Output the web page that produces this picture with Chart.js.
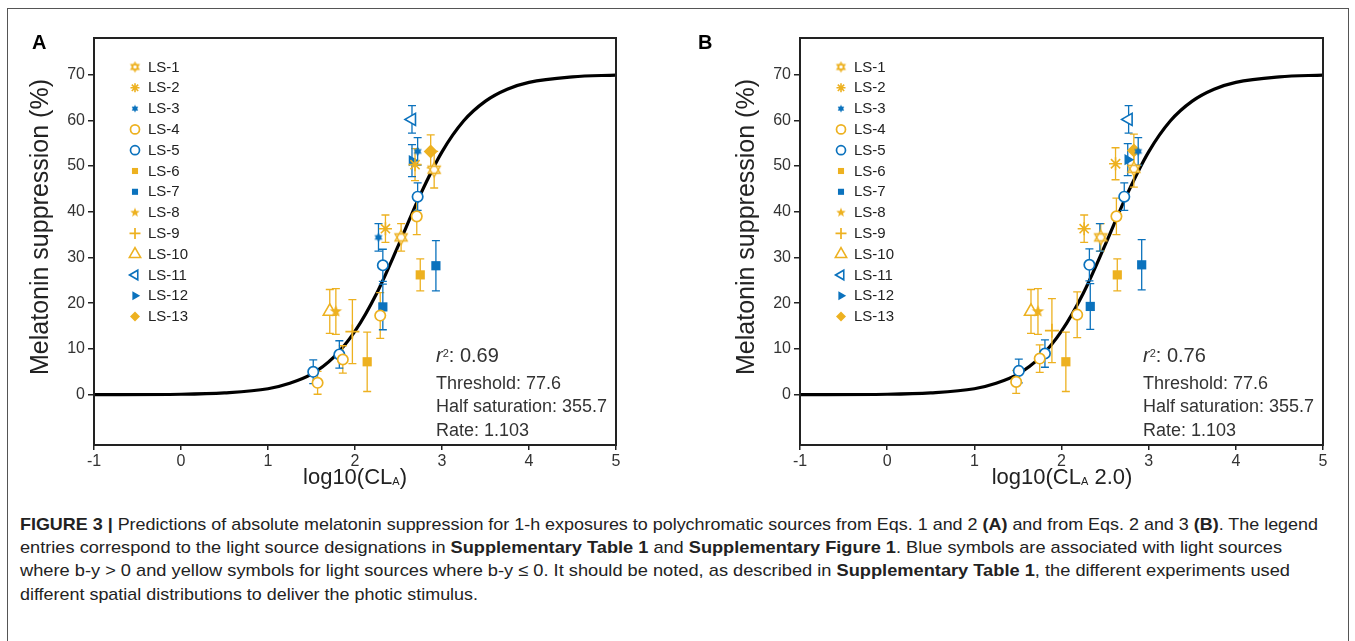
<!DOCTYPE html>
<html><head><meta charset="utf-8">
<script src="https://cdn.jsdelivr.net/npm/chart.js@4.4.1/dist/chart.umd.min.js"></script>
<style>
html,body{margin:0;padding:0;background:#fff;width:1355px;height:641px;overflow:hidden;font-family:"Liberation Sans",Arial,Helvetica,sans-serif;}
#frame{position:absolute;left:7px;top:8px;width:1342px;height:700px;border:1.5px solid #555;box-sizing:border-box;}
canvas{position:absolute;top:0;}
.plab{position:absolute;font-weight:bold;font-size:20px;color:#000;line-height:22px;}
.xt{position:absolute;font-size:22px;color:#222;transform:translateX(-50%);white-space:nowrap;line-height:24px;}
.xt sub{font-size:11px;vertical-align:baseline;position:relative;top:1px;}
.yt{position:absolute;font-size:25px;color:#222;white-space:nowrap;transform:translate(-50%,-50%) rotate(-90deg);line-height:28px;}
.st{position:absolute;color:#333;font-size:18px;line-height:22px;white-space:nowrap;}
.st.r2{font-size:20px;}
.st sup{font-size:11px;vertical-align:top;position:relative;top:-2px;}
.cap{position:absolute;left:20px;font-size:17px;line-height:22px;color:#222;white-space:nowrap;transform-origin:0 50%;}
</style></head>
<body>
<div id="frame"></div>
<canvas id="cA" width="670" height="500" style="left:0px"></canvas>
<canvas id="cB" width="649" height="500" style="left:706px"></canvas>
<div class="plab" style="left:32px;top:31px">A</div>
<div class="plab" style="left:698px;top:31px">B</div>
<div class="yt" style="left:39px;top:227px">Melatonin suppression (%)</div>
<div class="yt" style="left:745px;top:227px">Melatonin suppression (%)</div>
<div class="xt" style="left:355px;top:465px">log10(CL<sub>A</sub>)</div>
<div class="xt" style="left:1062px;top:465px">log10(CL<sub>A</sub> 2.0)</div>
<div class="st r2" style="left:436px;top:344px"><i>r</i><sup>2</sup>: 0.69</div>
<div class="st" style="left:436px;top:372px">Threshold: 77.6</div>
<div class="st" style="left:436px;top:395px">Half saturation: 355.7</div>
<div class="st" style="left:436px;top:419px">Rate: 1.103</div>
<div class="st r2" style="left:1143px;top:344px"><i>r</i><sup>2</sup>: 0.76</div>
<div class="st" style="left:1143px;top:372px">Threshold: 77.6</div>
<div class="st" style="left:1143px;top:395px">Half saturation: 355.7</div>
<div class="st" style="left:1143px;top:419px">Rate: 1.103</div>
<div class="cap" id="cap1" style="top:514px"><b>FIGURE 3 |</b> Predictions of absolute melatonin suppression for 1-h exposures to polychromatic sources from Eqs. 1 and 2 <b>(A)</b> and from Eqs. 2 and 3 <b>(B)</b>. The legend</div>
<div class="cap" id="cap2" style="top:537px">entries correspond to the light source designations in <b>Supplementary Table 1</b> and <b>Supplementary Figure 1</b>. Blue symbols are associated with light sources</div>
<div class="cap" id="cap3" style="top:560px">where b-y &gt; 0 and yellow symbols for light sources where b-y ≤ 0. It should be noted, as described in <b>Supplementary Table 1</b>, the different experiments used</div>
<div class="cap" id="cap4" style="top:584px">different spatial distributions to deliver the photic stimulus.</div>
<script>
// ---------------- data ----------------
const categories = ['LS-1','LS-2','LS-3','LS-4','LS-5','LS-6','LS-7','LS-8','LS-9','LS-10','LS-11','LS-12','LS-13'];
const xTickVals = [-1,0,1,2,3,4,5];
const yTickVals = [0,10,20,30,40,50,60,70];
// fitted curve (same in both panels)
const curveX = [-1,0,0.5,1,1.25,1.5,1.75,2,2.25,2.5,2.75,3,3.25,3.5,3.75,4,4.5,5];
const curveY = [0.0,0.1,0.4,1.3,2.5,4.5,8.1,13.9,22.2,32.7,43.7,53.1,59.9,64.2,66.8,68.3,69.5,69.9];

// panel A: [log10(CLA), suppression %, error]
const A_LS1 = [[2.53,34.4,3.0],[2.91,49.2,4.0]];
const A_LS2 = [[2.35,36.3,3.0],[2.69,50.3,3.5]];
const A_LS3 = [[2.27,34.4,3.0],[2.72,53.2,3.0]];
const A_LS4 = [[1.57,2.6,2.5],[1.86,7.7,3.0],[2.29,17.3,5.0],[2.71,39.0,4.0]];
const A_LS5 = [[1.52,5.0,2.6],[1.82,8.8,3.0],[2.32,28.3,3.5],[2.72,43.3,3.0]];
const A_LS6 = [[2.14,7.2,6.5],[2.75,26.2,3.5]];
const A_LS7 = [[2.32,19.2,5.0],[2.93,28.2,5.5]];
const A_LS8 = [[1.78,18.2,5.0]];
const A_LS9 = [[1.97,13.8,7.0]];
const A_LS10 = [[1.71,18.2,4.8]];
const A_LS11 = [[2.655,60.2,3.0]];
const A_LS12 = [[2.655,51.2,3.5]];
const A_LS13 = [[2.87,53.2,3.6]];

// panel B: [log10(CLA 2.0), suppression %, error]
const B_LS1 = [[2.45,34.4,3.0],[2.83,49.4,4.0]];
const B_LS2 = [[2.26,36.3,3.0],[2.62,50.5,3.5]];
const B_LS3 = [[2.44,34.4,3.0],[2.88,53.2,3.0]];
const B_LS4 = [[1.48,2.8,2.5],[1.75,7.9,3.0],[2.18,17.5,5.0],[2.63,39.0,4.0]];
const B_LS5 = [[1.51,5.2,2.6],[1.81,9.0,3.0],[2.32,28.4,3.5],[2.72,43.3,3.0]];
const B_LS6 = [[2.05,7.2,6.5],[2.64,26.2,3.5]];
const B_LS7 = [[2.33,19.3,5.0],[2.92,28.4,5.5]];
const B_LS8 = [[1.73,18.2,5.0]];
const B_LS9 = [[1.89,14.0,7.0]];
const B_LS10 = [[1.65,18.2,4.8]];
const B_LS11 = [[2.77,60.2,3.0]];
const B_LS12 = [[2.76,51.4,3.5]];
const B_LS13 = [[2.83,53.4,3.6]];

const panelA = [A_LS1,A_LS2,A_LS3,A_LS4,A_LS5,A_LS6,A_LS7,A_LS8,A_LS9,A_LS10,A_LS11,A_LS12,A_LS13];
const panelB = [B_LS1,B_LS2,B_LS3,B_LS4,B_LS5,B_LS6,B_LS7,B_LS8,B_LS9,B_LS10,B_LS11,B_LS12,B_LS13];

// ---------------- styles ----------------
const YEL = '#EDB120', BLU = '#0B72BD';
const FONT = '"Liberation Sans", Arial, Helvetica, sans-serif';

function mk(size, fn){ const c=document.createElement('canvas'); c.width=c.height=size; const g=c.getContext('2d'); g.translate(size/2,size/2); fn(g); return c; }
function tri(g, r, off){ g.beginPath(); for(let k=0;k<3;k++){ const a=-Math.PI/2+off+k*2*Math.PI/3; const px=r*Math.cos(a), py=r*Math.sin(a); if(k) g.lineTo(px,py); else g.moveTo(px,py);} g.closePath(); }
function hexagram(r, color, filled, lw){
  return mk(Math.ceil(2*r+4), g=>{
    [0,Math.PI].forEach(o=>{ tri(g,r,o); g.fillStyle = filled?color:'#fff'; g.fill(); });
    if(!filled){ g.strokeStyle=color; g.lineWidth=lw; [0,Math.PI].forEach(o=>{ tri(g,r,o); g.stroke(); }); }
  });
}
function star5(r, color){
  return mk(Math.ceil(2*r+4), g=>{
    g.beginPath();
    for(let k=0;k<10;k++){ const rr = k%2? r*0.42 : r; const a=-Math.PI/2+k*Math.PI/5; const px=rr*Math.cos(a), py=rr*Math.sin(a); if(k) g.lineTo(px,py); else g.moveTo(px,py);}
    g.closePath(); g.fillStyle=color; g.fill();
  });
}

const seriesStyle = [
  {color:YEL, style:hexagram(7,YEL,false,1.4), legStyle:hexagram(4.5,YEL,false,1.3)},
  {color:YEL, style:'star', radius:6.5, fill:false, bw:1.6, legRadius:4.5},
  {color:BLU, style:hexagram(4.6,BLU,true), legStyle:hexagram(3.8,BLU,true)},
  {color:YEL, style:'circle', radius:5.2, fill:false, bw:1.7, legRadius:4.5},
  {color:BLU, style:'circle', radius:5.2, fill:false, bw:1.7, legRadius:4.5},
  {color:YEL, style:'rect', radius:6.5, fill:true, bw:0, legRadius:4.3},
  {color:BLU, style:'rect', radius:6.5, fill:true, bw:0, legRadius:4.3},
  {color:YEL, style:star5(6.5,YEL), legStyle:star5(5,YEL)},
  {color:YEL, style:'cross', radius:7, fill:false, bw:1.7, legRadius:5.5},
  {color:YEL, style:'triangle', radius:7.5, fill:false, bw:1.6, legRadius:6.5},
  {color:BLU, style:'triangle', radius:7, rot:-90, fill:false, bw:1.6, legRadius:5.5},
  {color:BLU, style:'triangle', radius:6.5, rot:90, fill:true, bw:0, legRadius:5.2},
  {color:YEL, style:'rectRot', radius:7, fill:true, bw:0, legRadius:5},
];

// ---------------- plugins ----------------
const errorBars = {
  id:'errorBars',
  afterDatasetDraw(chart, args){
    if(args.index !== 0) return; // after the curve, before the markers
    const ctx = chart.ctx, xs = chart.scales.x, ys = chart.scales.y;
    chart.data.datasets.forEach(ds=>{
      if(!ds.errs) return;
      ctx.save(); ctx.strokeStyle = ds.errColor; ctx.lineWidth = 1.3;
      ds.data.forEach((p,i)=>{
        const e = ds.errs[i], px = xs.getPixelForValue(p.x);
        const y1 = ys.getPixelForValue(p.y - e), y2 = ys.getPixelForValue(p.y + e);
        ctx.beginPath();
        ctx.moveTo(px,y1); ctx.lineTo(px,y2);
        ctx.moveTo(px-4,y1); ctx.lineTo(px+4,y1);
        ctx.moveTo(px-4,y2); ctx.lineTo(px+4,y2);
        ctx.stroke();
      });
      ctx.restore();
    });
  }
};
const boxAndLegend = {
  id:'boxAndLegend',
  afterDraw(chart){
    const ctx = chart.ctx, a = chart.chartArea;
    ctx.save();
    ctx.strokeStyle = '#222'; ctx.lineWidth = 2;
    ctx.strokeRect(a.left, a.top, a.right-a.left, a.bottom-a.top);
    // legend inside the plot area
    categories.forEach((name,i)=>{
      const s = seriesStyle[i];
      const x = a.left + 41, y = a.top + 29 + i*20.8;
      ctx.fillStyle = s.fill===false ? '#fff' : s.color;
      ctx.strokeStyle = s.color;
      ctx.lineWidth = s.bw || 0;
      Chart.helpers.drawPoint(ctx, {pointStyle: s.legStyle || s.style, rotation: s.rot||0, radius: s.legRadius||4, borderWidth: s.bw||0}, x, y);
      ctx.fillStyle = '#222';
      ctx.font = '15px ' + FONT;
      ctx.textBaseline = 'middle'; ctx.textAlign = 'left';
      ctx.fillText(name, a.left + 54, y + 0.5);
    });
    ctx.restore();
  }
};

function makeChart(id, panel, padRight){
  const datasets = [{
    type:'line', label:'fit',
    data: curveX.map((x,i)=>({x, y: curveY[i]})),
    borderColor:'#000', borderWidth:3.2, pointRadius:0, showLine:true,
    cubicInterpolationMode:'monotone', fill:false, order:100
  }];
  panel.forEach((arr,i)=>{
    const s = seriesStyle[i];
    datasets.push({
      label: categories[i],
      data: arr.map(p=>({x:p[0], y:p[1]})),
      errs: arr.map(p=>p[2]),
      errColor: s.color,
      pointStyle: s.style,
      pointRadius: s.radius || 6,
      pointHoverRadius: s.radius || 6,
      pointRotation: s.rot || 0,
      pointBorderWidth: s.bw || 0,
      pointBorderColor: s.color,
      pointBackgroundColor: s.fill===false ? '#fff' : s.color,
      showLine:false
    });
  });
  const tickFont = {size:16, family:FONT};
  return new Chart(document.getElementById(id), {
    type:'scatter',
    data:{datasets},
    options:{
      responsive:false, animation:false, events:[],
      layout:{padding:{top:38, right:padRight, left:0, bottom:0}},
      plugins:{legend:{display:false}, tooltip:{enabled:false}},
      scales:{
        x:{type:'linear', min:-1, max:5,
          afterBuildTicks: s=>{ s.ticks = xTickVals.map(v=>({value:v})); },
          afterFit: s=>{ s.height = 55; },
          grid:{display:true, drawOnChartArea:false, drawTicks:true, tickLength:5, color:'#222', lineWidth:1.5},
          border:{display:true, color:'#222', width:2},
          ticks:{color:'#333', font:tickFont, padding:2, maxRotation:0, autoSkip:false}
        },
        y:{type:'linear', min:-11, max:78,
          afterBuildTicks: s=>{ s.ticks = yTickVals.map(v=>({value:v})); },
          afterFit: s=>{ s.width = 94; },
          grid:{display:true, drawOnChartArea:false, drawTicks:true, tickLength:6, color:'#222', lineWidth:1.5},
          border:{display:true, color:'#222', width:2},
          ticks:{color:'#333', font:tickFont, padding:3, autoSkip:false}
        }
      }
    },
    plugins:[errorBars, boxAndLegend]
  });
}
makeChart('cA', panelA, 54);
makeChart('cB', panelB, 32);

// fit caption line widths to the reference line ends
(function(){
  const targets = {cap1:1318, cap2:1282, cap3:1290};
  const w1 = document.getElementById('cap1').getBoundingClientRect().width;
  const k1 = (1318-20)/w1;
  ['cap1','cap2','cap3','cap4'].forEach(id=>{
    const el = document.getElementById(id);
    let k = k1;
    if(targets[id]){ k = (targets[id]-20)/el.getBoundingClientRect().width; }
    el.style.transform = 'scaleX('+k+')';
  });
})();
</script>
</body></html>
